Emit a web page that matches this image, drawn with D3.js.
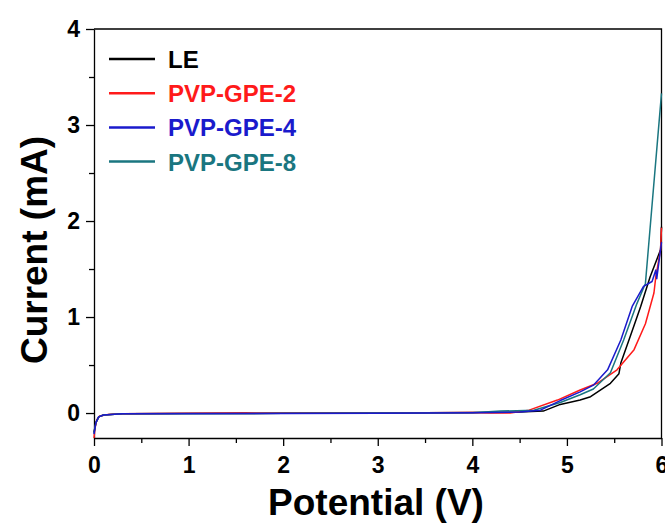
<!DOCTYPE html>
<head>
    <meta charset="utf-8">
    <style>
        body { margin: 0; background: #ffffff; }
        .tick text { font-family: "Liberation Sans", Arial, sans-serif; font-weight: bold; }
        .axTitle { font-family: "Liberation Sans", Arial, sans-serif; font-weight: bold; font-size: 37px; fill: #000; }
        .legText { font-family: "Liberation Sans", Arial, sans-serif; font-weight: bold; font-size: 24px; }
    </style>
    <script src="https://d3js.org/d3.v7.min.js"></script>
</head>
<body>
<div id="chart"></div>
<script>

    // series: [potential (V), current (mA)]
    var seriesNames = ["LE", "PVP-GPE-2", "PVP-GPE-4", "PVP-GPE-8"];
    var seriesColors = ["#000000", "#ff1a1a", "#1a1acc", "#1a7680"];

    var leData = [[0,-0.2],[0.02,-0.1],[0.05,-0.04],[0.1,-0.02],[0.3,-0.008],[1,-0.005],[2,-0.003],[3,0],[4,0.005],
        [4.5,0.01],[4.75,0.02],[4.93,0.09],[5.14,0.135],[5.25,0.17],[5.46,0.31],[5.55,0.41],[5.57,0.52],[5.67,0.8],
        [5.78,1.11],[5.88,1.42],[5.99,1.7],[6.0,1.94]];

    var gpe2Data = [[0,-0.26],[0.01,-0.16],[0.03,-0.07],[0.06,-0.03],[0.15,-0.015],[0.3,-0.008],[1.6,0.002],[2,0],
        [3,0],[4,0.005],[4.2,0],[4.4,0],[4.6,0.03],[4.9,0.135],[5.14,0.24],[5.32,0.31],[5.53,0.45],[5.71,0.66],
        [5.83,0.93],[5.92,1.25],[5.94,1.42],[5.99,1.7],[6.0,1.93]];

    var gpe4Data = [[0,-0.22],[0.02,-0.1],[0.05,-0.04],[0.1,-0.02],[0.3,-0.008],[2,-0.004],[3,-0.002],[4,0.003],
        [4.5,0.01],[4.72,0.03],[4.93,0.13],[5.14,0.22],[5.28,0.29],[5.43,0.45],[5.57,0.76],[5.69,1.11],[5.81,1.32],
        [5.9,1.37],[5.94,1.49],[5.95,1.4],[6.0,1.78]];

    var gpe8Data = [[0,-0.21],[0.02,-0.1],[0.05,-0.04],[0.1,-0.02],[0.3,-0.007],[2,-0.003],[3,0],[4,0.004],
        [4.3,0.02],[4.65,0.03],[4.93,0.11],[5.14,0.19],[5.28,0.25],[5.46,0.42],[5.6,0.76],[5.74,1.14],[5.83,1.35],
        [6.0,3.33]];

    var xTicks = [0, 1, 2, 3, 4, 5, 6];
    var yTicks = [0, 1, 2, 3, 4];

    var allData = [leData, gpe2Data, gpe4Data, gpe8Data];
    var drawOrder = [0, 1, 3, 2];

    var W = 665, H = 523;
    var margin = {left: 94, right: 3.5, top: 29, bottom: 85};

    var svg = d3.select("#chart").append("svg")
        .attr("width", W)
        .attr("height", H);

    var x = d3.scaleLinear()
        .domain([0, 6])
        .range([margin.left, W - margin.right]);

    var y = d3.scaleLinear()
        .domain([-0.26, 4])
        .range([H - margin.bottom, margin.top]);

    // minor ticks first
    svg.append("g")
        .attr("transform", "translate(0," + y.range()[0] + ")")
        .call(d3.axisBottom(x).tickValues(d3.range(0.5, 6, 1)).tickSize(5).tickFormat(""))
        .call(g => g.select(".domain").remove());

    svg.append("g")
        .attr("transform", "translate(" + x.range()[0] + ",0)")
        .call(d3.axisLeft(y).tickValues(d3.range(0.5, 4, 1)).tickSize(5).tickFormat(""))
        .call(g => g.select(".domain").remove());

    var xx = svg.append("g")
        .attr("class", "ax")
        .attr("transform", "translate(0," + y.range()[0] + ")")
        .call(d3.axisBottom(x).tickValues(xTicks).tickSize(8).tickSizeOuter(0).tickPadding(11).tickFormat(d3.format("d")));

    var yx = svg.append("g")
        .attr("class", "ax")
        .attr("transform", "translate(" + x.range()[0] + ",0)")
        .call(d3.axisLeft(y).tickValues(yTicks).tickSize(8).tickSizeOuter(0).tickPadding(6).tickFormat(d3.format("d")));

    svg.selectAll(".ax text").style("font-size", "23px").attr("fill", "#000");
    svg.selectAll("line, .domain").attr("stroke", "#000").attr("stroke-width", 1.3);

    // top and right frame
    svg.append("path")
        .attr("d", "M" + x(0) + "," + y(4) + "H" + x(6) + "V" + y(-0.26))
        .attr("fill", "none")
        .attr("stroke", "#000")
        .attr("stroke-width", 1.3);

    var line = d3.line()
        .x(d => x(d[0]))
        .y(d => y(d[1]));

    drawOrder.forEach(function(i) {
        svg.append("path")
            .datum(allData[i])
            .attr("fill", "none")
            .attr("stroke", seriesColors[i])
            .attr("stroke-width", 1.5)
            .attr("stroke-linejoin", "round")
            .attr("d", line);
    });

    // legend
    var legend = svg.append("g");
    seriesNames.forEach(function(name, i) {
        var ly = 59 + i * 34.2;
        legend.append("line")
            .attr("x1", 109).attr("x2", 155)
            .attr("y1", ly).attr("y2", ly)
            .attr("stroke", seriesColors[i])
            .attr("stroke-width", 2.5);
        legend.append("text")
            .attr("class", "legText")
            .attr("x", 168)
            .attr("y", ly + 9)
            .attr("fill", seriesColors[i])
            .text(name);
    });

    svg.append("text")
        .attr("class", "axTitle")
        .attr("x", 376)
        .attr("y", 515)
        .attr("text-anchor", "middle")
        .text("Potential (V)");

    svg.append("text")
        .attr("class", "axTitle")
        .attr("transform", "translate(47,250) rotate(-90)")
        .attr("text-anchor", "middle")
        .text("Current (mA)");

</script>
</body>
